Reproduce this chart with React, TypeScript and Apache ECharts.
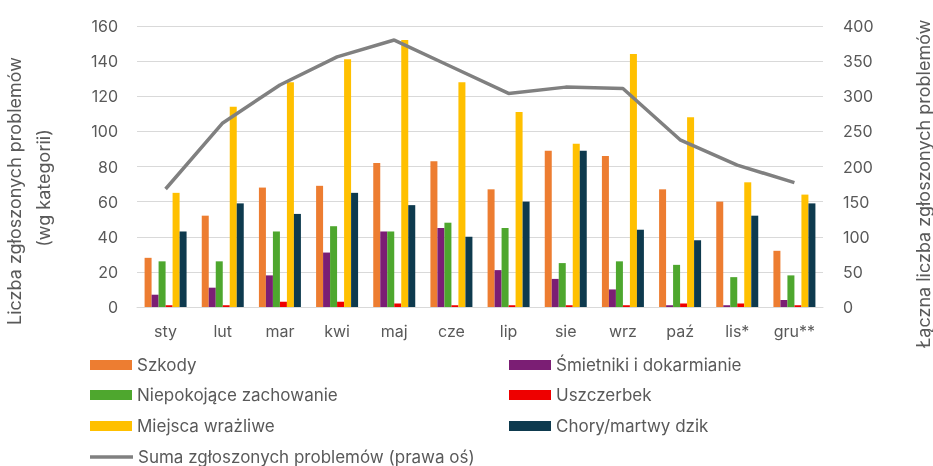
import React, { useEffect, useRef } from "react";
import * as echarts from "echarts";

const months = ["sty", "lut", "mar", "kwi", "maj", "cze", "lip", "sie", "wrz", "paź", "lis*", "gru**"];
const szkody = [28, 52, 68, 69, 82, 83, 67, 89, 86, 67, 60, 32];
const smietniki = [7, 11, 18, 31, 43, 45, 21, 16, 10, 1, 1, 4];
const niepokojace = [26, 26, 43, 46, 43, 48, 45, 25, 26, 24, 17, 18];
const uszczerbek = [1, 1, 3, 3, 2, 1, 1, 1, 1, 2, 2, 1];
const miejsca = [65, 114, 128, 141, 152, 128, 111, 93, 144, 108, 71, 64];
const chory = [43, 59, 53, 65, 58, 40, 60, 89, 44, 38, 52, 59];
const suma = [168, 262, 316, 356, 380, 342, 304, 313, 311, 238, 202, 177];
const leftTicks = [0, 20, 40, 60, 80, 100, 120, 140, 160];
const rightTicks = [0, 50, 100, 150, 200, 250, 300, 350, 400];

const FONT = "Inter, 'Open Sans', sans-serif";
const GRAY = "#595959";

const barSeries = [
  { name: "Szkody", data: szkody, color: "#ED7D31" },
  { name: "Śmietniki i dokarmianie", data: smietniki, color: "#7B1E74" },
  { name: "Niepokojące zachowanie", data: niepokojace, color: "#4EA72E" },
  { name: "Uszczerbek", data: uszczerbek, color: "#EE0000" },
  { name: "Miejsca wrażliwe", data: miejsca, color: "#FFC000" },
  { name: "Chory/martwy dzik", data: chory, color: "#0E3A4E" },
];
const lineName = "Suma zgłoszonych problemów (prawa oś)";

const legendPos: { name: string; left: number; cy: number }[] = [
  { name: "Szkody", left: 90, cy: 365 },
  { name: "Śmietniki i dokarmianie", left: 509, cy: 365 },
  { name: "Niepokojące zachowanie", left: 90, cy: 395 },
  { name: "Uszczerbek", left: 509, cy: 395 },
  { name: "Miejsca wrażliwe", left: 90, cy: 426 },
  { name: "Chory/martwy dzik", left: 509, cy: 426 },
];

export default function App() {
  const ref = useRef<HTMLDivElement>(null);
  useEffect(() => {
    if (!ref.current) return;
    const chart = echarts.init(ref.current, null, { renderer: "svg" });
    const legendText = { color: GRAY, fontSize: 17, fontFamily: FONT, lineHeight: 20 };
    const legends: any[] = legendPos.map((p) => ({
      data: [{ name: p.name, icon: "rect" }],
      left: p.left,
      top: p.cy - 10,
      padding: 0,
      itemWidth: 42,
      itemHeight: 10,
      itemGap: 0,
      textStyle: legendText,
      selectedMode: false,
    }));
    legends.push({
      data: [{ name: lineName, icon: "rect" }],
      left: 90,
      top: 457 - 10,
      padding: 0,
      itemWidth: 43,
      itemHeight: 3.5,
      textStyle: legendText,
      selectedMode: false,
    });
    chart.setOption({
      animation: false,
      textStyle: { fontFamily: FONT },
      grid: { left: 137, right: 110, top: 26, bottom: 159, containLabel: false },
      legend: legends,
      xAxis: {
        type: "category",
        data: months,
        axisLine: { lineStyle: { color: "#D9D9D9", width: 1 } },
        axisTick: { show: false },
        axisLabel: { color: GRAY, fontSize: 16, fontFamily: FONT, margin: 16 },
      },
      yAxis: [
        {
          type: "value",
          min: leftTicks[0],
          max: leftTicks[leftTicks.length - 1],
          interval: 20,
          axisLabel: { color: GRAY, fontSize: 16, fontFamily: FONT, margin: 19 },
          splitLine: { lineStyle: { color: "#D9D9D9", width: 1 } },
          axisLine: { show: false },
          axisTick: { show: false },
        },
        {
          type: "value",
          min: rightTicks[0],
          max: rightTicks[rightTicks.length - 1],
          interval: 50,
          position: "right",
          axisLabel: { color: GRAY, fontSize: 16, fontFamily: FONT, margin: 20 },
          splitLine: { show: false },
          axisLine: { show: false },
          axisTick: { show: false },
        },
      ],
      series: [
        ...barSeries.map((s) => ({
          type: "bar",
          name: s.name,
          data: s.data,
          barWidth: 7,
          barGap: "0%",
          itemStyle: { color: s.color },
          yAxisIndex: 0,
        })),
        {
          type: "line",
          name: lineName,
          data: suma,
          yAxisIndex: 1,
          symbol: "none",
          lineStyle: { color: "#808080", width: 3.5 },
          itemStyle: { color: "#808080" },
          z: 5,
        },
      ],
      graphic: [
        {
          type: "text",
          x: 14,
          y: 191,
          rotation: Math.PI / 2,
          style: {
            text: "Liczba zgłoszonych problemów",
            fill: GRAY,
            font: `18px ${FONT}`,
            textAlign: "center",
            textVerticalAlign: "middle",
          },
        },
        {
          type: "text",
          x: 43,
          y: 188,
          rotation: Math.PI / 2,
          style: {
            text: "(wg kategorii)",
            fill: GRAY,
            font: `18px ${FONT}`,
            textAlign: "center",
            textVerticalAlign: "middle",
          },
        },
        {
          type: "text",
          x: 923,
          y: 184,
          rotation: Math.PI / 2,
          style: {
            text: "Łączna liczba zgłoszonych problemów",
            fill: GRAY,
            font: `18px ${FONT}`,
            textAlign: "center",
            textVerticalAlign: "middle",
          },
        },
      ],
    });
    return () => chart.dispose();
  }, []);
  return (
    <div
      ref={ref}
      style={{ position: "fixed", left: 0, top: 0, width: 933, height: 466, overflow: "hidden" }}
    />
  );
}
